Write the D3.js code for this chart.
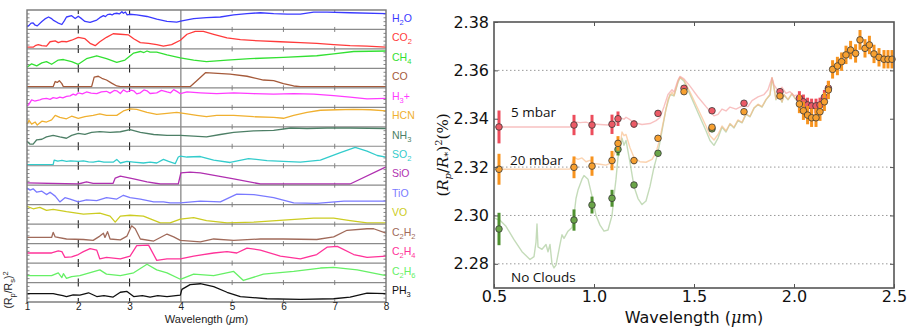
<!DOCTYPE html>
<html><head><meta charset="utf-8">
<script src="https://cdn.jsdelivr.net/npm/d3@7"></script>
<style>body{margin:0;background:#fff}svg{display:block}</style>
</head><body>
<svg id="c" width="912" height="328"></svg>
<script>
// ---------------- LEFT PANEL DATA ----------------
const molecules = ["H2O","CO2","CH4","CO","H3+","HCN","NH3","SO2","SiO","TiO","VO","C2H2","C2H4","C2H6","PH3"];
const molColors = ["#3a3aff","#ff3b3b","#33e033","#a55a3a","#ff3cff","#f0b030","#4d7f66","#33cccc","#b030b0","#7a7aff","#cccc22","#a06a5a","#ff3399","#66f066","#111111"];
const leftXTicks = [1,2,3,4,5,6,7,8];
// each spectrum: [wavelength (um), relative depth within its strip 0..1]
const specH2O = [[1.0,.1],[1.03,.14],[1.08,.3],[1.12,.31],[1.16,.18],[1.2,.14],[1.29,.4],[1.35,.55],[1.42,.66],[1.47,.58],[1.51,.48],[1.6,.32],[1.68,.22],[1.73,.45],[1.77,.66],[1.87,.74],[1.94,.57],[2.0,.71],[2.07,.55],[2.13,.4],[2.23,.34],[2.36,.48],[2.42,.62],[2.49,.74],[2.53,.68],[2.57,.8],[2.62,.83],[2.66,.78],[2.7,.86],[2.75,.88],[2.8,.84],[2.85,.97],[2.88,.88],[2.92,.95],[2.95,.79],[3.0,.82],[3.14,.79],[3.34,.69],[3.53,.53],[3.73,.4],[3.92,.36],[4.02,.43],[4.25,.57],[4.5,.62],[4.77,.66],[5.03,.79],[5.29,.86],[5.55,.91],[5.81,.86],[6.07,.83],[6.33,.83],[6.59,.95],[6.85,.95],[7.3,.91],[8.0,.86]];
const specCO2 = [[1.0,.03],[1.12,.03],[1.16,.12],[1.22,.18],[1.29,.12],[1.38,.09],[1.45,.35],[1.55,.4],[1.61,.3],[1.68,.37],[1.77,.35],[1.87,.44],[2.0,.61],[2.13,.53],[2.23,.26],[2.33,.12],[2.42,.35],[2.55,.61],[2.68,.82],[2.82,.79],[2.98,.75],[3.08,.53],[3.21,.3],[3.37,.26],[3.53,.18],[3.66,.09],[3.82,.18],[3.99,.44],[4.12,.79],[4.28,.96],[4.44,.96],[4.64,.79],[4.9,.58],[5.16,.47],[5.55,.4],[5.94,.35],[6.33,.3],[6.65,.26],[6.98,.18],[7.3,.12],[7.63,.09],[8.0,.03]];
const specCH4 = [[1.0,0],[1.09,.2],[1.19,.08],[1.29,.25],[1.38,.33],[1.48,.17],[1.61,.42],[1.71,.45],[1.87,.33],[2.0,.17],[2.16,.5],[2.36,.67],[2.55,.5],[2.75,.28],[2.91,.42],[3.08,.83],[3.21,.92],[3.28,.86],[3.34,.95],[3.4,.88],[3.53,.88],[3.73,.72],[3.99,.55],[4.25,.42],[4.5,.33],[4.9,.42],[5.35,.5],[6.0,.58],[6.65,.67],[6.98,.78],[7.37,.92],[8.0,.95]];
const specCO = [[1.0,0],[1.51,0],[1.55,.3],[1.59,.25],[1.63,.35],[1.68,.18],[1.71,0],[2.26,0],[2.31,.56],[2.39,.61],[2.46,.49],[2.55,.39],[2.65,.21],[2.75,.04],[2.82,0],[4.18,0],[4.31,.35],[4.48,.82],[4.64,.79],[4.96,.74],[5.29,.61],[5.61,.39],[5.81,.35],[6.0,.18],[6.2,.04],[6.33,0],[8.0,0]];
const specH3p = [[1.0,.02],[1.03,.07],[1.09,.37],[1.15,.3],[1.25,.37],[1.3,.42],[1.38,.45],[1.45,.4],[1.51,.5],[1.58,.46],[1.64,.53],[1.7,.48],[1.77,.57],[1.84,.6],[1.9,.7],[1.95,.64],[2.0,.78],[2.08,.72],[2.16,.83],[2.25,.76],[2.36,.73],[2.45,.84],[2.55,.87],[2.62,.76],[2.7,.92],[2.75,.9],[2.82,.74],[2.88,.95],[2.95,.83],[3.03,.94],[3.08,.9],[3.14,.72],[3.21,.78],[3.28,.95],[3.34,.9],[3.4,.74],[3.53,.78],[3.62,.92],[3.73,.83],[3.8,.78],[3.86,.97],[3.93,.85],[3.99,.73],[4.12,.83],[4.38,.78],[4.7,.73],[5.03,.78],[5.42,.73],[5.81,.7],[6.2,.73],[6.59,.7],[6.98,.62],[7.3,.53],[7.63,.42],[8.0,.45]];
const specHCN = [[1.0,.09],[1.04,.31],[1.09,.09],[1.16,.21],[1.2,.03],[1.29,.26],[1.38,.21],[1.48,.34],[1.55,.6],[1.64,.48],[1.77,.4],[1.87,.55],[2.0,.43],[2.13,.52],[2.29,.6],[2.42,.69],[2.55,.6],[2.75,.6],[2.88,.86],[3.01,.98],[3.14,.95],[3.34,.78],[3.53,.66],[3.73,.72],[3.92,.78],[4.12,.69],[4.31,.6],[4.5,.52],[4.7,.6],[5.03,.6],[5.42,.52],[5.81,.48],[6.0,.43],[6.2,.6],[6.46,.78],[6.72,.9],[7.05,.93],[7.37,.95],[7.7,.93],[8.0,.86]];
const specNH3 = [[1.0,.22],[1.06,.05],[1.12,.05],[1.19,.31],[1.29,.34],[1.38,.48],[1.51,.57],[1.64,.48],[1.77,.4],[1.87,.57],[2.0,.69],[2.13,.62],[2.26,.74],[2.42,.79],[2.62,.74],[2.82,.78],[3.01,.91],[3.21,.74],[3.47,.62],[3.73,.57],[3.99,.57],[4.25,.52],[4.5,.48],[4.77,.62],[5.03,.74],[5.42,.83],[5.81,.86],[6.14,1.0],[6.46,.97],[6.85,1.0],[7.3,1.0],[8.0,.97]];
const specSO2 = [[1.0,0],[1.51,0],[1.53,.26],[1.6,.2],[1.68,.24],[1.77,.18],[1.85,.22],[2.0,.18],[2.1,.22],[2.2,.16],[2.29,.14],[2.4,.2],[2.5,.14],[2.68,.14],[2.75,.3],[2.82,.09],[2.95,.18],[3.08,.14],[3.27,.09],[3.4,.14],[3.53,.09],[3.66,.3],[3.76,.18],[3.89,.05],[3.95,.44],[3.99,.49],[4.12,.44],[4.38,.47],[4.64,.26],[4.96,.12],[5.32,.35],[5.68,.23],[6.0,.18],[6.33,.14],[6.72,.26],[7.11,.7],[7.4,1.0],[7.63,.79],[7.83,.53],[8.0,.44]];
const specSiO = [[1.0,.07],[2.0,0],[2.16,.12],[2.29,.04],[2.68,.04],[2.72,.35],[2.82,.46],[3.08,.3],[3.34,.12],[3.6,0],[3.95,0],[4.0,.65],[4.18,.7],[4.38,.65],[5.03,.3],[5.55,0],[7.3,0],[8.0,1.0]];
const specTiO = [[1.0,.9],[1.06,.78],[1.12,.86],[1.19,.66],[1.29,.72],[1.38,.52],[1.45,.66],[1.55,.43],[1.64,.09],[1.74,.34],[1.84,.26],[2.0,.09],[2.16,.21],[2.36,.17],[2.55,.34],[2.75,.26],[2.88,.48],[3.01,.34],[3.21,.26],[3.47,.09],[3.66,.09],[3.79,.03],[3.99,.03],[4.38,.14],[4.77,.09],[5.09,.55],[5.42,.52],[5.81,.34],[6.2,.03],[6.65,0],[7.18,.14],[8.0,.14]];
const specVO = [[1.0,.97],[1.12,.83],[1.25,.91],[1.38,.74],[1.51,.79],[1.77,.66],[2.1,.52],[2.42,.57],[2.62,.4],[2.72,.05],[2.82,.4],[3.01,.45],[3.27,.4],[3.6,0],[3.79,0],[3.99,.22],[4.25,.31],[4.5,.14],[4.9,0],[5.42,.05],[6.0,.17],[6.59,.28],[6.98,.28],[7.3,.14],[7.63,0],[8.0,0]];
const specC2H2 = [[1.0,.29],[1.48,.29],[1.51,.59],[1.55,.32],[1.77,.2],[2.1,.17],[2.29,.12],[2.42,.37],[2.49,.54],[2.52,.29],[2.57,.63],[2.62,.2],[2.82,.15],[2.95,.37],[3.04,.97],[3.11,.8],[3.21,.2],[3.47,.08],[3.6,.29],[3.73,.49],[3.86,.32],[3.99,.12],[4.38,.03],[4.64,.2],[5.03,.12],[5.55,.2],[6.0,.2],[6.65,.17],[6.98,.32],[7.24,.71],[7.63,.8],[7.76,.8],[8.0,.54]];
const specC2H4 = [[1.0,.52],[1.48,.52],[1.61,.64],[1.68,.6],[1.74,.26],[1.87,.29],[2.0,.43],[2.1,.6],[2.23,.78],[2.36,.69],[2.42,.17],[2.55,.26],[2.82,.17],[3.01,.34],[3.14,.95],[3.37,.98],[3.53,.09],[3.73,.17],[3.99,.17],[4.25,.34],[4.64,.52],[4.9,.6],[5.09,.52],[5.29,.81],[5.55,.69],[5.94,.34],[6.33,.17],[6.65,.43],[6.85,.86],[7.05,.91],[7.37,.43],[7.63,.26],[8.0,.34]];
const specC2H6 = [[1.0,.33],[1.48,.33],[1.61,.5],[1.68,.22],[1.71,.45],[1.77,.17],[1.87,.28],[2.03,.33],[2.42,.67],[2.55,.42],[2.82,.33],[3.08,.5],[3.34,1.0],[3.53,.67],[3.73,.5],[3.99,.12],[4.25,.42],[4.64,.33],[5.03,.58],[5.22,.05],[5.61,.42],[6.2,.58],[6.72,.78],[6.98,.82],[7.44,.67],[8.0,.33]];
const specPH3 = [[1.0,.42],[1.51,.42],[1.6,.36],[1.7,.3],[1.77,.25],[1.9,.35],[2.03,.33],[2.2,.47],[2.36,.25],[2.5,.3],[2.68,.22],[2.82,.5],[2.95,.55],[3.08,.25],[3.25,.3],[3.4,.22],[3.55,.3],[3.73,.25],[3.99,.33],[4.02,.67],[4.18,.95],[4.38,1.0],[4.64,.83],[4.9,.5],[5.16,.25],[5.68,.12],[6.33,.08],[6.98,.12],[7.3,.22],[7.63,.45],[8.0,.42]];
const spectra = [specH2O,specCO2,specCH4,specCO,specH3p,specHCN,specNH3,specSO2,specSiO,specTiO,specVO,specC2H2,specC2H4,specC2H6,specPH3];

// ---------------- RIGHT PANEL DATA ----------------
const rightXTicks = [0.5,1.0,1.5,2.0,2.5];
const rightYTicks = [2.28,2.30,2.32,2.34,2.36,2.38];
const gridY = [2.28,2.30,2.32,2.36];
// observed points, 5 mbar (red)
const lam5 = [0.525,0.90,0.99,1.09,1.12,1.20,1.32,1.45,1.59,1.75,1.93,2.027,2.047,2.068,2.088,2.11,2.13,2.152,2.172];
const val5 = [2.3366,2.3374,2.3374,2.3377,2.3400,2.3378,2.3422,2.3526,2.3433,2.3464,2.3512,2.3484,2.3470,2.3457,2.3453,2.3453,2.3457,2.3489,2.3526];
const err5 = [0.0068,0.0042,0.0042,0.0040,0.0030,0.0015,0.0010,0.0010,0.0010,0.0010,0.0010,0.0030,0.0030,0.0030,0.0030,0.0030,0.0030,0.0030,0.0030];
// 20 mbar (orange)
const lam20 = [0.525,0.90,0.99,1.09,1.12,1.20,1.32,1.45,1.59,1.75,1.93,2.027,2.047,2.068,2.088,2.11,2.13,2.152,2.172,2.193,2.217,2.238,2.26,2.283,2.308,2.33,2.355,2.377,2.40,2.425,2.45,2.47,2.49];
const val20 = [2.3191,2.3199,2.3204,2.3227,2.3298,2.3227,2.3319,2.3512,2.3365,2.3429,2.3494,2.3461,2.3433,2.3415,2.3404,2.3404,2.3429,2.3470,2.3519,2.3604,2.3618,2.3636,2.3664,2.3684,2.3670,2.3726,2.3691,2.3705,2.3668,2.3654,2.3646,2.3646,2.3646];
const err20 = [0.0064,0.0045,0.0040,0.0040,0.0030,0.0015,0.0010,0.0010,0.0010,0.0010,0.0010,0.0038,0.0038,0.0038,0.0038,0.0038,0.0038,0.0038,0.0038,0.0038,0.0038,0.0038,0.0038,0.0038,0.0038,0.0041,0.0038,0.0038,0.0038,0.0038,0.0038,0.0038,0.0038];
// no clouds (green)
const lamNC = [0.525,0.90,0.99,1.09,1.12,1.20,1.32,1.59];
const valNC = [2.2944,2.2981,2.3043,2.3071,2.3273,2.3126,2.3257,2.3358];
const errNC = [0.0067,0.0044,0.0035,0.0035,0.0025,0.0012,0.0010,0.0010];
// model spectra [wavelength, (Rp/R*)^2 %]
const model5 = [[0.50,2.3366],[0.88,2.3366],[0.89,2.3372],[0.90,2.3388],[0.93,2.3384],[0.96,2.3386],[0.99,2.3378],[1.03,2.3376],[1.07,2.3374],[1.10,2.3380],[1.12,2.3396],[1.13,2.3404],[1.15,2.3398],[1.16,2.3406],[1.18,2.3396],[1.20,2.3384],[1.24,2.3376],[1.28,2.3380],[1.31,2.3392],[1.33,2.3405],[1.35,2.3450],[1.37,2.3500],[1.39,2.3520],[1.40,2.3510],[1.42,2.3560],[1.43,2.3575],[1.45,2.3565],[1.48,2.3535],[1.52,2.3490],[1.56,2.3450],[1.60,2.3412],[1.62,2.3418],[1.64,2.3440],[1.66,2.3432],[1.68,2.3448],[1.71,2.3440],[1.74,2.3452],[1.77,2.3450],[1.79,2.3475],[1.82,2.3490],[1.85,2.3500],[1.87,2.3520],[1.89,2.3570],[1.90,2.3540],[1.92,2.3515],[1.94,2.3530],[1.96,2.3505],[1.98,2.3512],[2.00,2.3495],[2.03,2.3500]];
const model20 = [[0.50,2.3191],[0.88,2.3192],[0.89,2.3215],[0.90,2.3240],[0.92,2.3232],[0.94,2.3238],[0.96,2.3222],[0.98,2.3228],[1.00,2.3215],[1.03,2.3212],[1.06,2.3208],[1.08,2.3215],[1.10,2.3250],[1.12,2.3300],[1.13,2.3285],[1.14,2.3345],[1.15,2.3330],[1.16,2.3335],[1.18,2.3280],[1.20,2.3240],[1.23,2.3222],[1.26,2.3220],[1.29,2.3232],[1.31,2.3260],[1.33,2.3320],[1.35,2.3400],[1.37,2.3480],[1.39,2.3510],[1.40,2.3495],[1.42,2.3555],[1.43,2.3572],[1.45,2.3560],[1.48,2.3510],[1.52,2.3440],[1.56,2.3370],[1.58,2.3330],[1.60,2.3312],[1.62,2.3335],[1.64,2.3370],[1.66,2.3350],[1.68,2.3380],[1.70,2.3365],[1.72,2.3395],[1.74,2.3385],[1.76,2.3420],[1.78,2.3410],[1.80,2.3445],[1.82,2.3460],[1.84,2.3450],[1.86,2.3480],[1.88,2.3500],[1.89,2.3570],[1.90,2.3530],[1.91,2.3480],[1.92,2.3510],[1.94,2.3470],[1.95,2.3500],[1.97,2.3480],[1.99,2.3505],[2.01,2.3480],[2.03,2.3495]];
const modelNC = [[0.50,2.2990],[0.53,2.2980],[0.56,2.2955],[0.60,2.2900],[0.64,2.2850],[0.68,2.2818],[0.70,2.2830],[0.71,2.2890],[0.715,2.2965],[0.72,2.2870],[0.74,2.2860],[0.76,2.2880],[0.77,2.2850],[0.78,2.2880],[0.79,2.2800],[0.80,2.2783],[0.81,2.2795],[0.83,2.2880],[0.84,2.2920],[0.85,2.2905],[0.87,2.2935],[0.89,2.2950],[0.90,2.3000],[0.91,2.3070],[0.92,2.3105],[0.94,2.3150],[0.95,2.3165],[0.97,2.3150],[0.99,2.3080],[1.01,2.3000],[1.03,2.2960],[1.05,2.2935],[1.07,2.2940],[1.09,2.3000],[1.10,2.3080],[1.11,2.3150],[1.12,2.3240],[1.13,2.3270],[1.14,2.3320],[1.15,2.3290],[1.16,2.3310],[1.18,2.3220],[1.20,2.3120],[1.22,2.3070],[1.24,2.3045],[1.26,2.3060],[1.28,2.3120],[1.30,2.3200],[1.32,2.3260],[1.34,2.3350],[1.36,2.3440],[1.38,2.3500],[1.40,2.3495],[1.42,2.3550],[1.43,2.3570],[1.45,2.3555],[1.48,2.3500],[1.52,2.3425],[1.56,2.3350],[1.58,2.3310],[1.60,2.3290],[1.62,2.3320],[1.64,2.3365],[1.66,2.3345],[1.68,2.3378],[1.70,2.3362],[1.72,2.3392],[1.74,2.3383],[1.76,2.3418],[1.78,2.3408],[1.80,2.3443],[1.82,2.3458],[1.84,2.3448],[1.86,2.3478],[1.88,2.3498],[1.89,2.3568],[1.90,2.3528],[1.91,2.3478],[1.92,2.3508],[1.94,2.3468],[1.95,2.3498],[1.97,2.3478],[1.99,2.3503],[2.01,2.3478],[2.03,2.3493]];

// ---------------- DRAW ----------------
const svg = d3.select("#c");
const sans = "'Liberation Sans', Arial, sans-serif";

// ===== Left panel =====
const L = {x0:27, x1:386, y0:10, y1:302};
const lx = d3.scaleLinear().domain([1,8]).range([L.x0, L.x1]);
const strip = d3.scaleBand().domain(d3.range(molecules.length)).range([L.y0, L.y1]).padding(0);
const sh = strip.bandwidth();
const gl = svg.append("g");

gl.append("line").attr("x1",lx(4)).attr("x2",lx(4)).attr("y1",L.y0).attr("y2",L.y1)
  .attr("stroke","#888").attr("stroke-width",1.3);

molecules.forEach((m,i)=>{
  const top = strip(i), bot = top + sh;
  const sy = d3.scaleLinear().domain([0,1]).range([bot-1.2, top+1.2]);
  if(i>0) gl.append("line").attr("x1",L.x0).attr("x2",L.x1).attr("y1",top).attr("y2",top)
      .attr("stroke","#8a8a8a").attr("stroke-width",1.2);
  d3.range(1,5).forEach(k=>{
    const yy = top + k*sh/5;
    gl.append("line").attr("x1",L.x0).attr("x2",L.x0+2.5).attr("y1",yy).attr("y2",yy).attr("stroke","#555").attr("stroke-width",0.7);
    gl.append("line").attr("x1",L.x1-2.5).attr("x2",L.x1).attr("y1",yy).attr("y2",yy).attr("stroke","#555").attr("stroke-width",0.7);
  });
  leftXTicks.filter(t=>t>1 && t<8 && t!==4).forEach(t=>{
    const big = (t===2||t===3);
    const len = big?4:2.5;
    gl.append("line").attr("x1",lx(t)).attr("x2",lx(t)).attr("y1",top).attr("y2",top+len).attr("stroke",big?"#222":"#666").attr("stroke-width",big?1.1:0.8);
    gl.append("line").attr("x1",lx(t)).attr("x2",lx(t)).attr("y1",bot-len).attr("y2",bot).attr("stroke",big?"#222":"#666").attr("stroke-width",big?1.1:0.8);
  });
  gl.append("path").datum(spectra[i])
    .attr("d", d3.line().x(d=>lx(d[0])).y(d=>sy(d[1])))
    .attr("fill","none").attr("stroke",molColors[i]).attr("stroke-width",1.3).attr("stroke-linejoin","round");
});
gl.append("rect").attr("x",L.x0).attr("y",L.y0).attr("width",L.x1-L.x0).attr("height",L.y1-L.y0)
  .attr("fill","none").attr("stroke","#777").attr("stroke-width",1.4);

function molParts(name){
  if(name==="H3+") return [["H",0],["3",1],["+",0]];
  const parts=[]; for(const ch of name){ parts.push([ch, /[0-9]/.test(ch)?1:0]); }
  return parts;
}
molecules.forEach((m,i)=>{
  const cy = strip(i)+sh/2 - 1.5;
  const t = gl.append("text").attr("x",392).attr("y",cy+3.5).attr("font-family",sans).attr("font-size",10.5).attr("fill",molColors[i]);
  let prevSub=false;
  molParts(m).forEach(([s,sub])=>{
    const ts = t.append("tspan").text(s);
    if(sub && !prevSub){ ts.attr("dy",3).attr("font-size",7.5); }
    else if(sub){ ts.attr("font-size",7.5); }
    else if(!sub && prevSub){ ts.attr("dy",-3); }
    prevSub = !!sub;
  });
});
const lax = gl.append("g").attr("transform",`translate(0,${L.y1})`)
  .call(d3.axisBottom(lx).tickValues(leftXTicks).tickFormat(d3.format("d")).tickSize(0).tickPadding(1));
lax.select(".domain").remove();
lax.selectAll("text").attr("font-family",sans).attr("font-size",10).attr("fill","#222");
gl.append("text").attr("x",(L.x0+L.x1)/2).attr("y",323).attr("text-anchor","middle")
  .attr("font-family",sans).attr("font-size",11).attr("fill","#222")
  .call(t=>{t.append("tspan").text("Wavelength (");t.append("tspan").attr("font-style","italic").text("\u03bc");t.append("tspan").text("m)");});
const yl = gl.append("text").attr("transform","translate(12,290) rotate(-90)").attr("text-anchor","middle")
  .attr("font-family",sans).attr("font-size",10.5).attr("fill","#222");
yl.append("tspan").text("(R");
yl.append("tspan").attr("dy",2.5).attr("font-size",7.5).text("p");
yl.append("tspan").attr("dy",-2.5).text("/R");
yl.append("tspan").attr("dy",2.5).attr("font-size",7.5).text("s");
yl.append("tspan").attr("dy",-2.5).text(")");
yl.append("tspan").attr("dy",-4).attr("font-size",7.5).text("2");

// ===== Right panel =====
const R = {x0:494, x1:894, y0:22, y1:288};
const rx = d3.scaleLinear().domain([0.5,2.5]).range([R.x0,R.x1]);
const ry = d3.scaleLinear().domain([2.27,2.38]).range([R.y1,R.y0]);
const gr = svg.append("g");
const dv = "'DejaVu Sans', 'Open Sans', sans-serif";

gr.selectAll(".grid").data(gridY).join("line")
  .attr("x1",R.x0).attr("x2",R.x1).attr("y1",d=>ry(d)).attr("y2",d=>ry(d))
  .attr("stroke","#999").attr("stroke-width",1).attr("stroke-dasharray","1.5,2.5");

const mline = d3.line().x(d=>rx(d[0])).y(d=>ry(d[1]));
[[modelNC,"#a4c894"],[model20,"#f9bc86"],[model5,"#f4a0a0"]].forEach(([data,col])=>{
  gr.append("path").datum(data).attr("d",mline).attr("fill","none")
    .attr("stroke",col).attr("stroke-width",1.4).attr("stroke-opacity",0.65).attr("stroke-linejoin","round");
});

const lbl = (txt,x,y)=>gr.append("text").attr("x",x).attr("y",y).attr("font-family","'Open Sans', 'DejaVu Sans', sans-serif").attr("font-size",13.5).attr("fill","#111").text(txt);
lbl("5 mbar", rx(0.585), ry(2.3408));
lbl("20 mbar", rx(0.58), ry(2.3208));
lbl("No Clouds", rx(0.585), ry(2.2725));

function series(lams, vals, errs, barCol, fillCol){
  const d = lams.map((l,i)=>({l, v:vals[i], e:errs[i]}));
  const g = gr.append("g");
  g.selectAll("line").data(d).join("line")
    .attr("x1",p=>rx(p.l)).attr("x2",p=>rx(p.l))
    .attr("y1",p=>ry(p.v-p.e)).attr("y2",p=>ry(p.v+p.e))
    .attr("stroke",barCol).attr("stroke-width",3);
  g.selectAll("circle").data(d).join("circle")
    .attr("cx",p=>rx(p.l)).attr("cy",p=>ry(p.v)).attr("r",3.3)
    .attr("fill",fillCol).attr("stroke","#3a3a3a").attr("stroke-width",0.8);
}
series(lamNC,valNC,errNC,"#4f9030","#6aa548");
series(lam5,val5,err5,"#ec4d5c","#ec5a66");
series(lam20,val20,err20,"#f7931e","#f7a030");

gr.append("rect").attr("x",R.x0).attr("y",R.y0).attr("width",R.x1-R.x0).attr("height",R.y1-R.y0)
  .attr("fill","none").attr("stroke","#555").attr("stroke-width",1.6);

const ax = gr.append("g").attr("transform",`translate(0,${R.y1})`)
  .call(d3.axisBottom(rx).tickValues(rightXTicks).tickFormat(d3.format(".1f")).tickSize(-4).tickPadding(3));
ax.select(".domain").remove();
ax.selectAll("line").attr("stroke","#555");
ax.selectAll("text").attr("font-family",dv).attr("font-size",16).attr("fill","#111");
const axT = gr.append("g").attr("transform",`translate(0,${R.y0})`)
  .call(d3.axisTop(rx).tickValues(rightXTicks.slice(1,-1)).tickSize(-4).tickFormat(""));
axT.select(".domain").remove(); axT.selectAll("line").attr("stroke","#555");
const ay = gr.append("g").attr("transform",`translate(${R.x0},0)`)
  .call(d3.axisLeft(ry).tickValues(rightYTicks).tickFormat(d3.format(".2f")).tickSize(-4).tickPadding(5));
ay.select(".domain").remove();
ay.selectAll("line").attr("stroke","#555");
ay.selectAll("text").attr("font-family",dv).attr("font-size",16).attr("fill","#111");
const ayR = gr.append("g").attr("transform",`translate(${R.x1},0)`)
  .call(d3.axisRight(ry).tickValues(rightYTicks.slice(0,-1)).tickSize(-4).tickFormat(""));
ayR.select(".domain").remove(); ayR.selectAll("line").attr("stroke","#555");

gr.append("text").attr("x",(R.x0+R.x1)/2).attr("y",323).attr("text-anchor","middle")
  .attr("font-family",dv).attr("font-size",16).attr("fill","#111")
  .call(t=>{t.append("tspan").text("Wavelength (");t.append("tspan").attr("font-family","'DejaVu Serif', serif").attr("font-style","italic").text("\u03bc");t.append("tspan").text("m)");});

const yr = gr.append("text").attr("transform","translate(448,155) rotate(-90)").attr("text-anchor","middle")
  .attr("font-family","'DejaVu Serif', 'Liberation Serif', serif").attr("font-size",15).attr("fill","#111");
yr.append("tspan").text("(");
yr.append("tspan").attr("font-style","italic").text("R");
yr.append("tspan").attr("font-style","italic").attr("dy",3).attr("font-size",10).text("p");
yr.append("tspan").attr("dy",-3).text("/");
yr.append("tspan").attr("font-style","italic").text("R");
yr.append("tspan").attr("dy",3).attr("font-size",10).text("*");
yr.append("tspan").attr("dy",-3).text(")");
yr.append("tspan").attr("dy",-6).attr("font-size",10).text("2");
yr.append("tspan").attr("dy",6).text("(%)");
</script>
</body></html>
